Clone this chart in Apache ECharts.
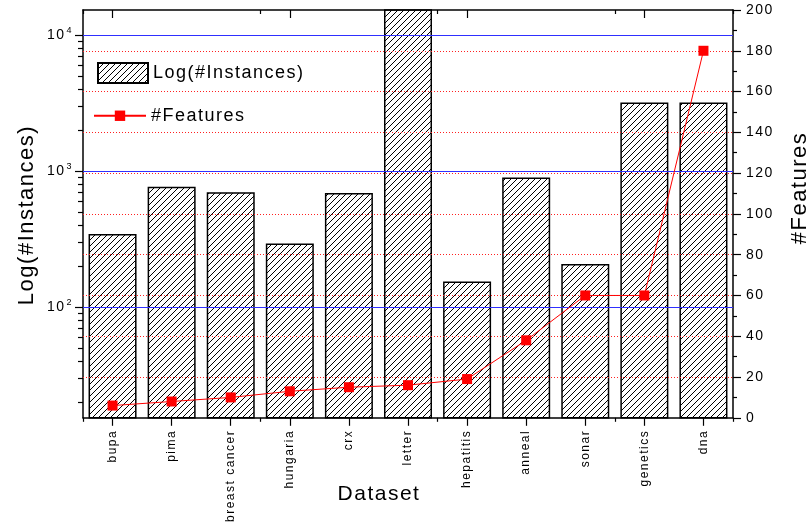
<!DOCTYPE html>
<html><head><meta charset="utf-8">
<script src="https://cdn.jsdelivr.net/npm/echarts@6/dist/echarts.min.js"></script>
<style>html,body{margin:0;padding:0;background:#fff}#c{width:812px;height:525px}</style>
</head><body><div id="c"></div>
<script>
// ---- data ----
const categories = ['bupa', 'pima', 'breast cancer', 'hungaria', 'crx', 'letter', 'hepatitis', 'anneal', 'sonar', 'genetics', 'dna'];
const instances = [345, 768, 699, 294, 690, 20000, 155, 898, 208, 3190, 3186];
const features = [6, 8, 10, 13, 15, 16, 19, 38, 60, 60, 180];
const leftMajorExponents = [2, 3, 4];
const leftMinorValues = [20, 30, 40, 50, 60, 70, 80, 90, 200, 300, 400, 500, 600, 700, 800, 900, 2000, 3000, 4000, 5000, 6000, 7000, 8000, 9000];
const rightGridValues = [20, 40, 60, 80, 100, 120, 140, 160, 180];
const leftRange = [15.5, 15200];
const rightRange = [0, 200];
const rightStep = 20;

// letter spacing like the original export
(function () {
  const P = CanvasRenderingContext2D.prototype;
  const ft = P.fillText, st = P.strokeText, mt = P.measureText;
  P.fillText = function () { this.letterSpacing = '1.5px'; return ft.apply(this, arguments); };
  P.strokeText = function () { this.letterSpacing = '1.5px'; return st.apply(this, arguments); };
  P.measureText = function () { this.letterSpacing = '1.5px'; return mt.apply(this, arguments); };
})();

const FONT = 'Liberation Sans, Arial, sans-serif';

function hatch() {
  const c = document.createElement('canvas');
  c.width = 6; c.height = 6;
  const g = c.getContext('2d');
  g.strokeStyle = '#000'; g.lineWidth = 1;
  g.beginPath();
  g.moveTo(0, 6); g.lineTo(6, 0);
  g.moveTo(-1, 1); g.lineTo(1, -1);
  g.moveTo(5, 7); g.lineTo(7, 5);
  g.stroke();
  return c;
}
const pattern = { image: hatch(), repeat: 'repeat' };
const L = Math.log10;
const tickStyle = () => ({ color: '#000', width: 1.2 });
const frameStyle = () => ({ color: '#000', width: 1.5 });

const chart = echarts.init(document.getElementById('c'), null, { renderer: 'canvas' });
chart.setOption({
  animation: false,
  backgroundColor: '#fff',
  grid: { left: 83, right: 79, top: 10, bottom: 107 },
  xAxis: [
    { type: 'category', data: categories, position: 'bottom',
      axisLine: { show: true, lineStyle: frameStyle() },
      axisTick: { show: true, alignWithLabel: true, length: 8, lineStyle: tickStyle() },
      axisLabel: { rotate: 90, fontSize: 12, fontFamily: FONT, color: '#000', margin: 12, interval: 0 },
      splitLine: { show: false } },
    { type: 'category', data: categories, position: 'bottom',
      axisLine: { show: false },
      axisTick: { show: true, length: 4, lineStyle: tickStyle() },
      axisLabel: { show: false }, splitLine: { show: false } },
    { type: 'category', data: categories, position: 'top',
      axisLine: { show: true, lineStyle: frameStyle() },
      axisTick: { show: true, inside: true, alignWithLabel: true, length: 8, lineStyle: tickStyle() },
      axisLabel: { show: false }, splitLine: { show: false } },
    { type: 'category', data: categories, position: 'top',
      axisLine: { show: false },
      axisTick: { show: true, inside: true, length: 4, lineStyle: tickStyle() },
      axisLabel: { show: false }, splitLine: { show: false } }
  ],
  yAxis: [
    { type: 'log', logBase: 10, min: leftRange[0], max: leftRange[1], position: 'left',
      axisLine: { show: true, lineStyle: frameStyle() },
      axisTick: { show: false }, axisLabel: { show: false }, splitLine: { show: false } },
    { type: 'value', min: rightRange[0], max: rightRange[1], interval: rightStep, position: 'right',
      axisLine: { show: true, lineStyle: frameStyle() },
      axisTick: { show: true, length: 8, lineStyle: tickStyle() },
      minorTick: { show: true, splitNumber: 2, length: 4, lineStyle: tickStyle() },
      axisLabel: { fontSize: 14, fontFamily: FONT, color: '#000', margin: 13 },
      splitLine: { show: false } },
    { type: 'value', min: L(leftRange[0]), max: L(leftRange[1]), position: 'left',
      axisLine: { show: false },
      axisTick: { show: true, customValues: leftMajorExponents, length: 8, lineStyle: tickStyle() },
      axisLabel: { show: true, customValues: leftMajorExponents, margin: 10, color: '#000',
        formatter: v => '{b|10}{s|' + Math.round(v) + '}',
        rich: { b: { fontSize: 14, fontFamily: FONT, color: '#000' },
                s: { fontSize: 9, fontFamily: FONT, color: '#000', padding: [0, 0, 9, 1] } } },
      splitLine: { show: false } },
    { type: 'value', min: L(leftRange[0]), max: L(leftRange[1]), position: 'left',
      axisLine: { show: false },
      axisTick: { show: true, customValues: leftMinorValues.map(L), length: 5, lineStyle: tickStyle() },
      axisLabel: { show: false }, splitLine: { show: false } }
  ],
  legend: [
    { data: [{ name: 'Log(#Instances)', icon: 'rect' }], left: 97, top: 62, padding: 0, itemWidth: 50, itemHeight: 20,
      textStyle: { fontSize: 18, fontFamily: FONT, color: '#000' }, selectedMode: false },
    { data: ['#Features'], left: 93, top: 106, padding: 0, itemWidth: 52, itemHeight: 13,
      textStyle: { fontSize: 18, fontFamily: FONT, color: '#000' }, selectedMode: false }
  ],
  graphic: [
    { type: 'text', x: 27, y: 215, rotation: Math.PI / 2,
      style: { text: 'Log(#Instances)', font: '22px ' + FONT, fill: '#000', align: 'center', verticalAlign: 'middle' } },
    { type: 'text', x: 800, y: 188, rotation: Math.PI / 2,
      style: { text: '#Features', font: '22px ' + FONT, fill: '#000', align: 'center', verticalAlign: 'middle' } },
    { type: 'text', x: 379, y: 494,
      style: { text: 'Dataset', font: '21px ' + FONT, fill: '#000', align: 'center', verticalAlign: 'middle' } }
  ],
  series: [
    { name: 'Log(#Instances)', type: 'bar', xAxisIndex: 0, yAxisIndex: 0, data: instances,
      barWidth: 48, clip: true, z: 2,
      itemStyle: { color: pattern, borderColor: '#000', borderWidth: 1.5 },
      markLine: { silent: true, z: 6, symbol: ['none', 'none'], label: { show: false },
        lineStyle: { color: '#2f2fff', width: 1.2, type: 'solid' },
        emphasis: { disabled: true },
        data: leftMajorExponents.map(e => ({ yAxis: Math.pow(10, e) })) } },
    { name: '#Features', type: 'line', xAxisIndex: 0, yAxisIndex: 1, data: features,
      symbol: 'rect', symbolSize: 10, z: 10,
      lineStyle: { color: '#ff0000', width: 1 }, itemStyle: { color: '#ff0000' },
      markLine: { silent: true, z: 5, symbol: ['none', 'none'], label: { show: false },
        lineStyle: { color: '#ff2020', width: 1, type: [1, 2] },
        emphasis: { disabled: true },
        data: rightGridValues.map(v => ({ yAxis: v })) } }
  ]
});
</script></body></html>
